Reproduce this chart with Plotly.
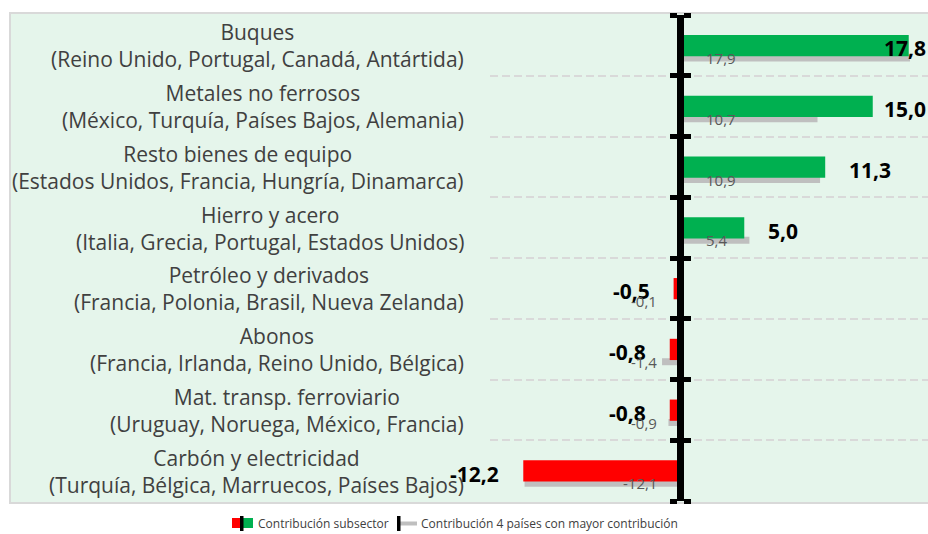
import plotly.graph_objects as go

# ---------------- data ----------------
categories = ["Buques", "Metales no ferrosos", "Resto bienes de equipo", "Hierro y acero",
              "Petróleo y derivados", "Abonos", "Mat. transp. ferroviario", "Carbón y electricidad"]
countries = ["(Reino Unido, Portugal, Canadá, Antártida)",
             "(México, Turquía, Países Bajos, Alemania)",
             "(Estados Unidos, Francia, Hungría, Dinamarca)",
             "(Italia, Grecia, Portugal, Estados Unidos)",
             "(Francia, Polonia, Brasil, Nueva Zelanda)",
             "(Francia, Irlanda, Reino Unido, Bélgica)",
             "(Uruguay, Noruega, México, Francia)",
             "(Turquía, Bélgica, Marruecos, Países Bajos)"]
subsector = [17.8, 15.0, 11.3, 5.0, -0.5, -0.8, -0.8, -12.2]
top4 = [17.9, 10.7, 10.9, 5.4, -0.1, -1.4, -0.9, -12.1]
legend_labels = ["Contribución subsector", "Contribución 4 países con mayor contribución"]

# ---------------- style ----------------
W, H = 928, 534
PL, PR, PT, PB = 490, 928, 15, 501          # plot area in page pixels
ML, MR, MT, MB = PL, W - PR, PT, H - PB
XMIN, XMAX = -14.79, 19.30
GREEN, RED, GRAY = "#00B050", "#FF0000", "#BFBFBF"
TXT = "#404040"
FONT = "Open Sans"

n = len(categories)
idx = list(range(n))
bounds = [i - 0.5 for i in range(n + 1)]
pos0 = (0 - XMIN) / (XMAX - XMIN)
PW, PH = PR - PL, PB - PT


def fmt(v):
    return f"{v:.1f}".replace(".", ",")


def px_x(px):
    return (px - PL) / PW


def px_y(py):
    return (PB - py) / PH


fig = go.Figure()
fig.add_trace(go.Bar(x=top4, y=idx, orientation="h", width=0.115, offset=0.15,
                     marker=dict(color=GRAY, line_width=0), hoverinfo="skip",
                     yaxis="y", showlegend=False))
fig.add_trace(go.Bar(x=subsector, y=idx, orientation="h", width=0.35, offset=-0.17,
                     marker=dict(color=[GREEN if v >= 0 else RED for v in subsector], line_width=0),
                     hoverinfo="skip", yaxis="y2", showlegend=False))

ann = []
for i, (c, k) in enumerate(zip(categories, countries)):
    ann.append(dict(text=c + "<br>" + k, xref="paper", x=0, xshift=-24, xanchor="right",
                    yref="y", y=i, yanchor="middle", yshift=-0.5, showarrow=False, align="center",
                    font=dict(family=FONT, size=21, color=TXT)))

for i, v in enumerate(subsector):
    f = dict(family=FONT, size=21, color="black")
    if v > 14:
        ann.append(dict(text="<b>%s</b>" % fmt(v), xref="paper", x=1, xanchor="right",
                        yref="y", y=i, yshift=-3, showarrow=False, font=f))
    elif v >= 0:
        ann.append(dict(text="<b>%s</b>" % fmt(v), xref="x", x=v, xanchor="left", xshift=22,
                        yref="y", y=i, yshift=-3, showarrow=False, font=f))
    else:
        ann.append(dict(text="<b>%s</b>" % fmt(v), xref="x", x=v, xanchor="right", xshift=-22,
                        yref="y", y=i, yshift=-3, showarrow=False, font=f))

for i, v in enumerate(top4):
    f = dict(family=FONT, size=15, color="#595959")
    if v >= 0:
        ann.append(dict(text=fmt(v), xref="x", x=0, xanchor="left", xshift=24,
                        yref="y", y=i + 0.21, showarrow=False, font=f))
    else:
        ann.append(dict(text=fmt(v), xref="x", x=0, xanchor="right", xshift=-21,
                        yref="y", y=i + 0.21, showarrow=False, font=f))

# legend (drawn manually)
ann.append(dict(text=legend_labels[0], xref="paper", yref="paper", x=px_x(256), y=px_y(523),
                xanchor="left", yanchor="middle", showarrow=False,
                font=dict(family=FONT, size=12, color=TXT)))
ann.append(dict(text=legend_labels[1], xref="paper", yref="paper", x=px_x(419), y=px_y(523),
                xanchor="left", yanchor="middle", showarrow=False,
                font=dict(family=FONT, size=12, color=TXT)))

shapes = [
    dict(type="rect", xref="paper", yref="paper", x0=px_x(10), x1=px_x(940), y0=px_y(503), y1=px_y(13),
         fillcolor="#E5F5EB", line=dict(color="#D9D9D9", width=2), layer="below"),
    dict(type="rect", xref="paper", yref="paper", x0=px_x(232), x1=px_x(241), y0=px_y(528), y1=px_y(518),
         fillcolor=RED, line_width=0),
    dict(type="rect", xref="paper", yref="paper", x0=px_x(243), x1=px_x(253), y0=px_y(528), y1=px_y(518),
         fillcolor=GREEN, line_width=0),
    dict(type="rect", xref="paper", yref="paper", x0=px_x(240), x1=px_x(243.5), y0=px_y(531), y1=px_y(516),
         fillcolor="black", line_width=0),
    dict(type="rect", xref="paper", yref="paper", x0=px_x(400), x1=px_x(417), y0=px_y(525.5), y1=px_y(521.5),
         fillcolor=GRAY, line_width=0),
    dict(type="rect", xref="paper", yref="paper", x0=px_x(397), x1=px_x(400.5), y0=px_y(531), y1=px_y(516),
         fillcolor="black", line_width=0),
]

yax = dict(range=[n - 0.5, -0.5], tickmode="array", tickvals=bounds, showticklabels=False,
           ticks="outside", ticklen=7, tickwidth=5, tickcolor="black",
           showline=True, linewidth=7, linecolor="black", anchor="free", position=pos0,
           zeroline=False, layer="above traces", fixedrange=True)

fig.update_layout(
    width=W, height=H, margin=dict(l=ML, r=MR, t=MT, b=MB),
    paper_bgcolor="white", plot_bgcolor="rgba(0,0,0,0)",
    barmode="overlay", showlegend=False,
    xaxis=dict(range=[XMIN, XMAX], visible=False, fixedrange=True),
    yaxis=dict(**yax, showgrid=True, gridcolor="#D9D9D9", gridwidth=2, griddash="8px,4px", side="left"),
    yaxis2=dict(**yax, overlaying="y", matches="y", side="right", showgrid=False),
    annotations=ann, shapes=shapes,
    font=dict(family=FONT),
)

fig.write_html("out.html", config={"displayModeBar": False},
               post_script="document.body.style.margin='0';document.body.style.overflow='hidden';")
